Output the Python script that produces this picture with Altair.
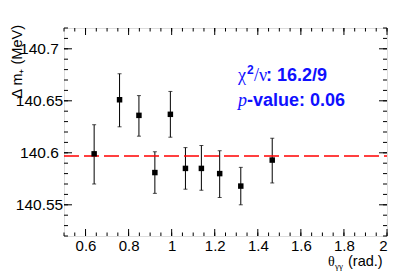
import altair as alt
import pandas as pd

# data
theta = [0.640, 0.758, 0.848, 0.922, 0.994, 1.064, 1.138, 1.223, 1.321, 1.467]
mass = [140.599, 140.651, 140.636, 140.581, 140.637, 140.585, 140.585, 140.580, 140.568, 140.593]
err_lo = [140.570, 140.625, 140.616, 140.561, 140.615, 140.565, 140.564, 140.557, 140.550, 140.571]
err_hi = [140.627, 140.676, 140.655, 140.601, 140.659, 140.605, 140.607, 140.602, 140.586, 140.614]
fit_value = 140.597
x_labels = [0.6, 0.8, 1.0, 1.2, 1.4, 1.6, 1.8, 2.0]
y_labels = [140.55, 140.6, 140.65, 140.7]
x_minor = [round(0.5 + 0.05 * i, 2) for i in range(31)]
y_minor = [round(140.52 + 0.01 * i, 2) for i in range(21)]

W, H = 323, 208
XD = [0.5, 2.0]
YD = [140.52, 140.72]

df = pd.DataFrame({"theta": theta, "mass": mass, "lo": err_lo, "hi": err_hi})

xs = alt.Scale(domain=XD, nice=False, zero=False)
ys = alt.Scale(domain=YD, nice=False, zero=False)

x_axis = alt.Axis(values=x_labels, ticks=False, tickSize=0, domain=False, grid=False,
                  labelFont="Liberation Sans", labelFontSize=15, labelColor="black",
                  labelPadding=2, title=None,
                  labelExpr="datum.value == 1 ? '1' : datum.value == 2 ? '2' : format(datum.value, '.1f')")
y_axis = alt.Axis(values=y_labels, ticks=False, tickSize=0, domain=False, grid=False,
                  labelFont="Liberation Sans", labelFontSize=15.5, labelColor="black",
                  labelAlign="center", labelPadding=25, title=None,
                  labelExpr="format(datum.value, '.2~f')")

base = alt.Chart(df)

bars = base.mark_rule(color="black", strokeWidth=1).encode(
    x=alt.X("theta:Q", scale=xs, axis=x_axis),
    y=alt.Y("lo:Q", scale=ys, axis=y_axis),
    y2="hi:Q",
)
cap_lo = base.mark_tick(color="black", orient="horizontal", size=4, thickness=1).encode(
    x=alt.X("theta:Q", scale=xs), y=alt.Y("lo:Q", scale=ys))
cap_hi = base.mark_tick(color="black", orient="horizontal", size=4, thickness=1).encode(
    x=alt.X("theta:Q", scale=xs), y=alt.Y("hi:Q", scale=ys))
pts = base.mark_square(color="black", size=30, opacity=1).encode(
    x=alt.X("theta:Q", scale=xs), y=alt.Y("mass:Q", scale=ys))

fit = alt.Chart(pd.DataFrame({"v": [fit_value]})).mark_rule(
    color="#ff0000", strokeWidth=1.5, strokeDash=[15, 5]).encode(
    y=alt.Y("v:Q", scale=ys), x=alt.value(0), x2=alt.value(W))

xmaj = pd.DataFrame({"v": x_labels})
xmin = pd.DataFrame({"v": x_minor})
ymaj = pd.DataFrame({"v": y_labels})
ymin = pd.DataFrame({"v": y_minor})

def xticks(d, L):
    b = alt.Chart(d).mark_rule(color="black", strokeWidth=1)
    return [
        b.encode(x=alt.X("v:Q", scale=xs), y=alt.value(H), y2=alt.value(H - L)),
        b.encode(x=alt.X("v:Q", scale=xs), y=alt.value(0), y2=alt.value(L)),
    ]

def yticks(d, L):
    b = alt.Chart(d).mark_rule(color="black", strokeWidth=1)
    return [
        b.encode(y=alt.Y("v:Q", scale=ys), x=alt.value(0), x2=alt.value(L)),
        b.encode(y=alt.Y("v:Q", scale=ys), x=alt.value(W), x2=alt.value(W - L)),
    ]

ticks = xticks(xmaj, 7) + xticks(xmin, 3.5) + yticks(ymaj, 8) + yticks(ymin, 4)

blue = "#1010ff"
txt = lambda s, x, y, font, size, weight="bold", style="normal", color=blue, align="left", angle=0: \
    alt.Chart(pd.DataFrame({"t": [s]})).mark_text(
        text=s, font=font, fontSize=size, fontWeight=weight, fontStyle=style,
        color=color, align=align, baseline="alphabetic", angle=angle
    ).encode(x=alt.value(x), y=alt.value(y))

ox, oy = 64, 28
labels = [
    txt("χ", 238 - ox, 81 - oy, "Liberation Serif", 18, weight="normal"),
    txt("2", 247 - ox, 74 - oy, "Liberation Sans", 12),
    txt("/ν", 254 - ox, 81 - oy, "Liberation Serif", 18, weight="normal"),
    txt(": 16.2/9", 266 - ox, 81 - oy, "Liberation Sans", 18),
    txt("p", 238 - ox, 106 - oy, "Liberation Serif", 18, weight="normal", style="italic"),
    txt("-value: 0.06", 247 - ox, 106 - oy, "Liberation Sans", 18),
    txt("θ", 328 - ox, 266 - oy, "Liberation Serif", 14, weight="normal", color="black"),
    txt("γγ", 335 - ox, 269 - oy, "Liberation Serif", 9, weight="normal", color="black"),
    txt("(rad.)", 348 - ox, 266 - oy, "Liberation Sans", 14.5, weight="normal", color="black"),
    txt("Δ m₊ (MeV)", 22 - ox, 25 - oy, "Liberation Sans", 14.5, weight="normal",
        color="black", align="right", angle=270),
]

chart = alt.layer(bars, cap_lo, cap_hi, fit, pts, *ticks, *labels).properties(
    width=W, height=H,
    autosize=alt.AutoSizeParams(type="none"),
    padding={"left": 56, "top": 20, "right": 4, "bottom": 36},
).configure_view(stroke="black", strokeWidth=1).configure(background="white")

chart.save("out.html", embed_options={"renderer": "svg", "actions": False})
